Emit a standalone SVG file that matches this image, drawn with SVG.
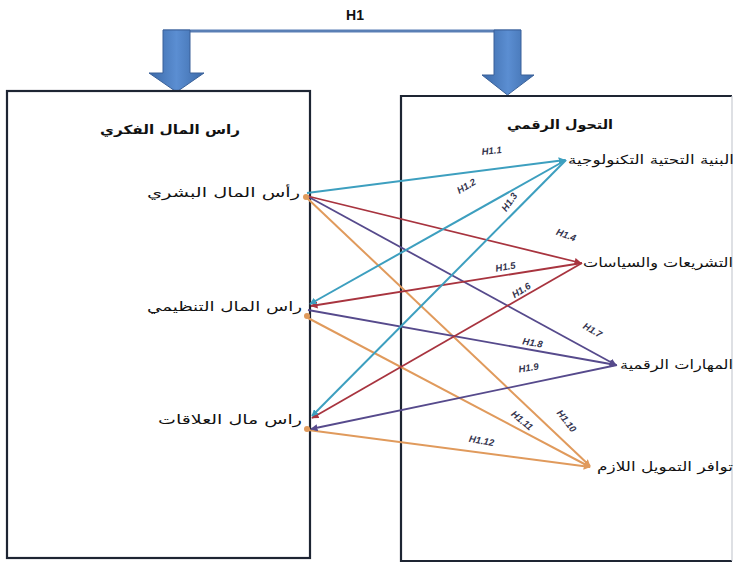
<svg xmlns="http://www.w3.org/2000/svg" width="736" height="563" viewBox="0 0 736 563">
<style>
.box{fill:#fff;stroke:#1e2533;stroke-width:2.2}
.ar{font-family:"DejaVu Sans",sans-serif;font-size:12.5px;fill:#111}
.ttl{font-weight:bold}
.lbl{font-family:"Liberation Sans",sans-serif;font-size:9.5px;font-style:italic;font-weight:bold;fill:#33334d}
.teal{stroke:#3d9fbf;stroke-width:2;fill:none}
.red{stroke:#a8343f;stroke-width:1.8;fill:none}
.pur{stroke:#564a8c;stroke-width:1.8;fill:none}
.org{stroke:#e09a5c;stroke-width:2;fill:none}
.big{fill:url(#bg);stroke:#3a6199;stroke-width:1}
</style>
<defs>
<linearGradient id="bg" x1="0" y1="0" x2="1" y2="0">
<stop offset="0" stop-color="#3c6aa8"/>
<stop offset="0.5" stop-color="#5b8ed2"/>
<stop offset="1" stop-color="#3c6aa8"/>
</linearGradient>
<marker id="mt" viewBox="0 0 10 10" refX="9" refY="5" markerWidth="3.5" markerHeight="3.5" orient="auto"><path d="M0,0 L10,5 L0,10 z" fill="#3d9fbf"/></marker>
<marker id="mr" viewBox="0 0 10 10" refX="9" refY="5" markerWidth="4" markerHeight="4" orient="auto"><path d="M0,0 L10,5 L0,10 z" fill="#a8343f"/></marker>
<marker id="mp" viewBox="0 0 10 10" refX="9" refY="5" markerWidth="4" markerHeight="4" orient="auto"><path d="M0,0 L10,5 L0,10 z" fill="#564a8c"/></marker>
<marker id="mo" viewBox="0 0 10 10" refX="9" refY="5" markerWidth="3.5" markerHeight="3.5" orient="auto"><path d="M0,0 L10,5 L0,10 z" fill="#e09a5c"/></marker>
</defs>
<rect width="736" height="563" fill="#fff"/>

<g id="h1">
<line x1="163" y1="31" x2="521" y2="31" stroke="#5a7fb5" stroke-width="3"/>
<text x="355" y="20" font-family="Liberation Sans,sans-serif" font-size="14" font-weight="bold" text-anchor="middle" fill="#111">H1</text>
<path class="big" d="M163,30 H190 V73 H204 L176.5,92 L149,73 H163 Z"/>
<path class="big" d="M494,30 H521 V75 H534 L507.5,95 L482,75 H494 Z"/>
</g>

<g id="box-left">
<rect class="box" x="7" y="91" width="303" height="467"/>
<text class="ar ttl" x="240" y="134" text-anchor="end" textLength="140" lengthAdjust="spacingAndGlyphs">راس المال الفكري</text>
</g>
<g id="box-right">
<path d="M732,96 V561 H401 V96 Z" fill="#fff" stroke="none"/>
<path d="M732,96 H401 V561 H732" fill="none" stroke="#1e2533" stroke-width="2.2"/>
<line x1="732" y1="96" x2="732" y2="561" stroke="#c8ccd2" stroke-width="1.2"/>
<text class="ar ttl" x="613" y="129" text-anchor="end" textLength="106" lengthAdjust="spacingAndGlyphs">التحول الرقمي</text>
</g>

<g id="node-human"><text class="ar" x="300" y="197" text-anchor="end" textLength="153" lengthAdjust="spacingAndGlyphs">رأس المال البشري</text></g>
<g id="node-org"><text class="ar" x="302" y="311" text-anchor="end" textLength="155" lengthAdjust="spacingAndGlyphs">راس المال التنظيمي</text></g>
<g id="node-rel"><text class="ar" x="302" y="424" text-anchor="end" textLength="144" lengthAdjust="spacingAndGlyphs">راس مال العلاقات</text></g>
<g id="node-infra"><text class="ar" x="734" y="164" text-anchor="end" textLength="166" lengthAdjust="spacingAndGlyphs">البنية التحتية التكنولوجية</text></g>
<g id="node-law"><text class="ar" x="733" y="267" text-anchor="end" textLength="150" lengthAdjust="spacingAndGlyphs">التشريعات والسياسات</text></g>
<g id="node-skills"><text class="ar" x="733" y="369" text-anchor="end" textLength="113" lengthAdjust="spacingAndGlyphs">المهارات الرقمية</text></g>
<g id="node-fund"><text class="ar" x="733" y="471" text-anchor="end" textLength="136" lengthAdjust="spacingAndGlyphs">توافر التمويل اللازم</text></g>

<g id="connectors">
<line class="org" x1="307" y1="198" x2="590" y2="466" marker-end="url(#mo)"/>
<line class="org" x1="308" y1="318" x2="590" y2="467" marker-end="url(#mo)"/>
<line class="org" x1="308" y1="430" x2="590" y2="467" marker-end="url(#mo)"/>
<line class="pur" x1="307" y1="196" x2="616" y2="365" marker-end="url(#mp)"/>
<line class="pur" x1="308" y1="310" x2="616" y2="365" marker-end="url(#mp)"/>
<line class="pur" x1="617" y1="365" x2="311" y2="429" marker-end="url(#mp)"/>
<line class="red" x1="307" y1="196" x2="581" y2="263" marker-end="url(#mr)"/>
<line class="red" x1="582" y1="263" x2="311" y2="306" marker-end="url(#mr)"/>
<line class="red" x1="582" y1="263" x2="312" y2="418" marker-end="url(#mr)"/>
<line class="teal" x1="307" y1="193" x2="565" y2="160" marker-end="url(#mt)"/>
<line class="teal" x1="566" y1="160" x2="310" y2="304" marker-end="url(#mt)"/>
<line class="teal" x1="566" y1="160" x2="312" y2="416" marker-end="url(#mt)"/>
<circle cx="306" cy="197" r="3" fill="#e09a5c"/>
<circle cx="307" cy="316" r="3" fill="#e09a5c"/>
<circle cx="307" cy="429" r="3" fill="#e09a5c"/>
</g>

<g id="labels">
<text class="lbl" transform="translate(492,154) rotate(-6)" text-anchor="middle">H1.1</text>
<text class="lbl" transform="translate(468,189) rotate(-30)" text-anchor="middle">H1.2</text>
<text class="lbl" transform="translate(512,204) rotate(-55)" text-anchor="middle">H1.3</text>
<text class="lbl" transform="translate(565,238) rotate(20)" text-anchor="middle">H1.4</text>
<text class="lbl" transform="translate(506,270) rotate(-10)" text-anchor="middle">H1.5</text>
<text class="lbl" transform="translate(523,293) rotate(-32)" text-anchor="middle">H1.6</text>
<text class="lbl" transform="translate(591,333) rotate(30)" text-anchor="middle">H1.7</text>
<text class="lbl" transform="translate(532,346) rotate(10)" text-anchor="middle">H1.8</text>
<text class="lbl" transform="translate(529,371) rotate(-8)" text-anchor="middle">H1.9</text>
<text class="lbl" transform="translate(564,423) rotate(52)" text-anchor="middle">H1.10</text>
<text class="lbl" transform="translate(520,423) rotate(40)" text-anchor="middle">H1.11</text>
<text class="lbl" transform="translate(481,444) rotate(10)" text-anchor="middle">H1.12</text>
</g>
</svg>
